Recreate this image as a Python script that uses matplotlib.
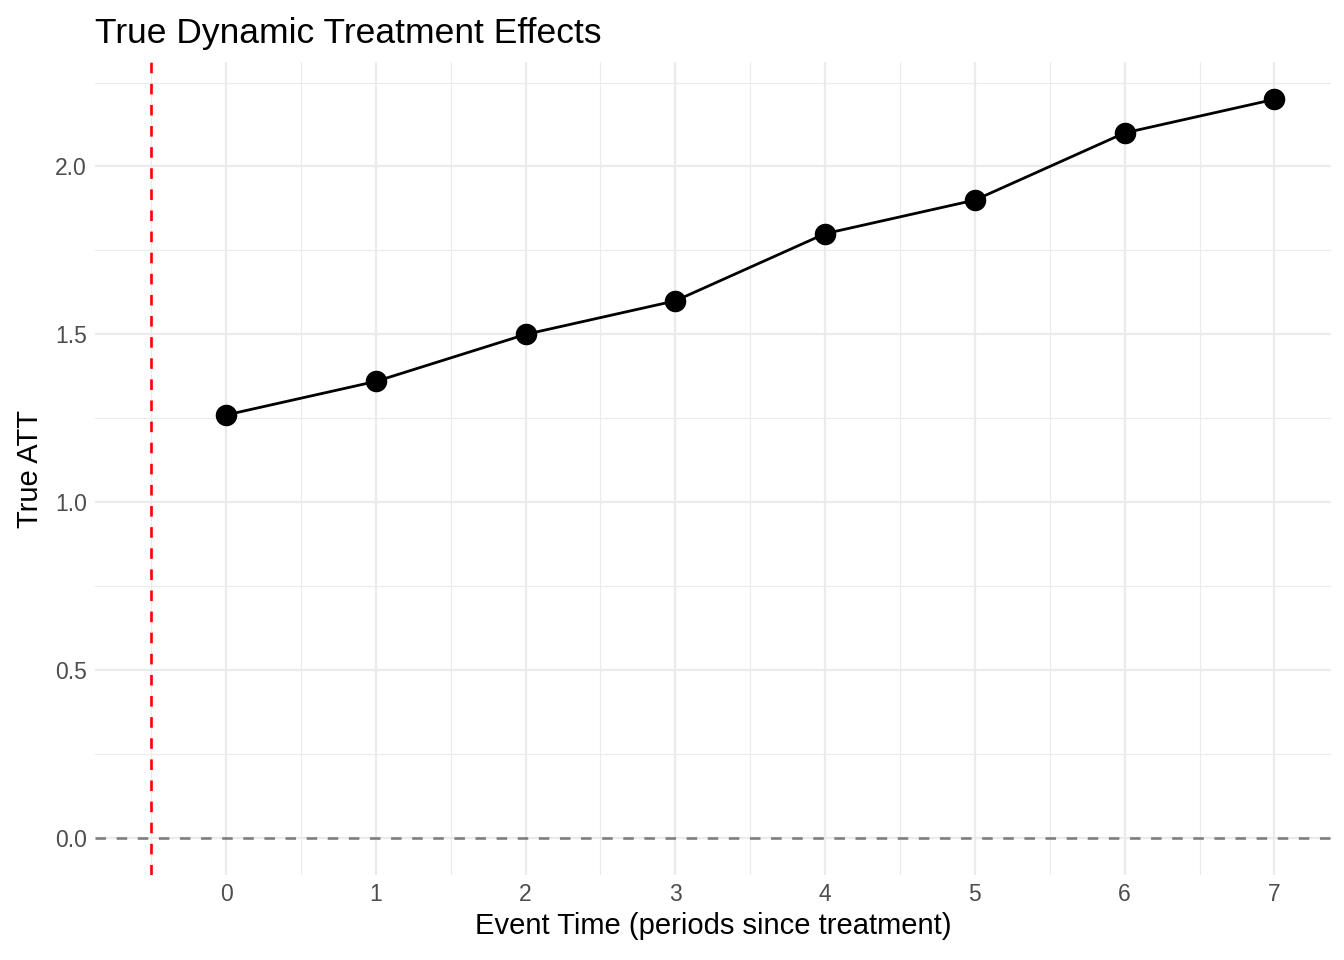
import matplotlib
matplotlib.use("Agg")
import matplotlib.pyplot as plt
from matplotlib.ticker import MultipleLocator

# data
event_time = [0, 1, 2, 3, 4, 5, 6, 7]
true_att = [1.26, 1.36, 1.50, 1.60, 1.80, 1.90, 2.10, 2.20]
treat_line = -0.5
zero_line = 0.0

plt.rcParams['font.family'] = ['Liberation Sans', 'DejaVu Sans']

fig = plt.figure(figsize=(13.44, 9.6), dpi=100)
ax = fig.add_axes([0.0707, 0.0885, 0.9193, 0.8465])

ax.set_xlim(-0.875, 7.375)
ax.set_ylim(-0.11, 2.31)
ax.xaxis.set_major_locator(MultipleLocator(1))
ax.xaxis.set_minor_locator(MultipleLocator(0.5))
ax.yaxis.set_major_locator(MultipleLocator(0.5))
ax.yaxis.set_minor_locator(MultipleLocator(0.25))

ax.grid(which='major', color='#EBEBEB', linewidth=1.6)
ax.grid(which='minor', color='#EBEBEB', linewidth=0.8)
ax.set_axisbelow(True)
for s in ax.spines.values():
    s.set_visible(False)
ax.tick_params(which='both', length=0)
ax.tick_params(axis='both', labelsize=16.5, colors='#4D4D4D', pad=6)

ax.axhline(zero_line, color='#7F7F7F', linestyle=(0, (4, 4)), linewidth=1.9)
ax.axvline(treat_line, color='#FF0000', linestyle=(0, (4, 4)), linewidth=1.9)

ax.plot(event_time, true_att, color='black', linewidth=2.0, zorder=3)
ax.plot(event_time, true_att, 'o', color='black', markersize=14.5, zorder=4)

ax.set_xticks(event_time)
ax.set_xticklabels([str(t) for t in event_time])

ax.set_xlabel('Event Time (periods since treatment)', fontsize=21, labelpad=4)
ax.set_ylabel('True ATT', fontsize=21, labelpad=8)
ax.set_title('True Dynamic Treatment Effects', fontsize=25.5, loc='left', pad=14)

fig.savefig('out.png', dpi=100, facecolor='white')
